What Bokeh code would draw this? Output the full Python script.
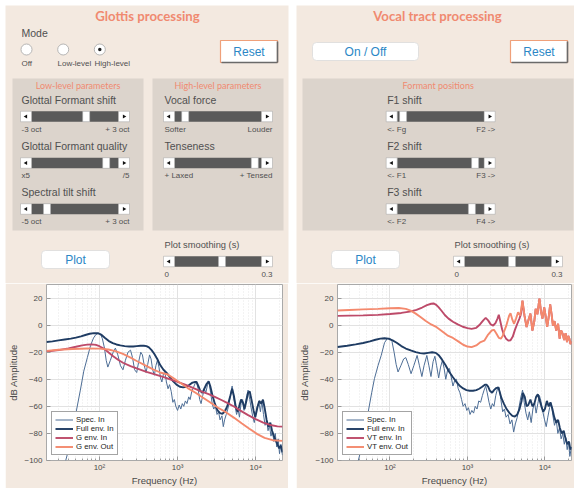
import math
from bokeh.plotting import figure
from bokeh.models import Range1d, FixedTicker, Legend, LegendItem, Spacer
from bokeh.layouts import column, row
from bokeh.embed import file_html
from bokeh.resources import INLINE
from bokeh.core.properties import value

# ---------------- data ----------------
x_ticks = [100, 1000, 10000]
x_tick_labels = ["10\u00b2", "10\u00b3", "10\u2074"]
x_minor = [30, 40, 50, 60, 70, 80, 90, 200, 300, 400, 500, 600, 700, 800, 900,
           2000, 3000, 4000, 5000, 6000, 7000, 8000, 9000, 20000]
y_ticks = [-100, -80, -60, -40, -20, 0, 20]

legend_left = ["Spec. In", "Full env. In", "G env. In", "G env. Out"]
legend_right = ["Spec. In", "Full env. In", "VT env. In", "VT env. Out"]

# Left plot (Glottis)
spec_L_f = [37, 42, 50, 57, 63, 70, 77, 84, 90, 97,
            103, 109, 116, 122, 128, 138, 150, 160, 172, 186,
            200, 215, 232, 250, 265, 282, 300, 318, 338, 355,
            375, 395, 415, 438, 458, 480, 505, 528, 552, 578,
            605, 630, 660, 690, 720, 755, 790, 830, 870, 910,
            950, 1000, 1050, 1100, 1150, 1200, 1260, 1320, 1390, 1450,
            1520, 1600, 1680, 1750, 1830, 1920, 2000, 2100, 2200, 2300,
            2420, 2530, 2650, 2780, 2900, 3050, 3200, 3350, 3500, 3700,
            3850, 4000, 4200, 4400, 4600, 4800, 5000, 5200, 5450, 5700,
            5950, 6200, 6500, 6800, 7100, 7400, 7700, 8000, 8400, 8800,
            9200, 9600, 10000, 10500, 11000, 11500, 12000, 12600, 13200, 13800,
            14400, 15000, 15700, 16400, 17100, 17800, 18600, 19400, 20200, 21000,
            22000]
spec_L_db = [-100, -88, -65, -48, -34, -24, -15, -9.5, -7, -6,
             -6.5, -10, -17, -26, -31, -26, -20, -17, -22, -30,
             -33, -26, -20, -18.5, -24, -33, -35, -27, -20, -22,
             -30, -35, -29, -22, -25, -33, -37, -30, -26, -31,
             -39, -42, -36, -35, -42, -47, -44, -49, -57, -55,
             -60, -63, -59, -62, -58, -60, -56, -58, -53, -55,
             -49, -46, -43, -42, -47, -55, -58, -52, -47, -50,
             -44, -42, -50, -58, -62, -60, -66, -64, -70, -67,
             -75, -70, -66, -62, -57, -50, -45, -53, -60, -66,
             -62, -68, -58, -55, -63, -57, -52, -48, -55, -62,
             -68, -72, -66, -60, -57, -64, -56, -66, -74, -70,
             -78, -74, -82, -78, -86, -80, -90, -84, -95, -88,
             -96]

full_L_f = [21, 25, 30, 36, 43, 50, 58, 66, 75, 85,
            95, 105, 118, 132, 148, 165, 185, 210, 240, 270,
            300, 335, 370, 400, 430, 465, 500, 550, 600, 660,
            730, 800, 880, 970, 1070, 1180, 1300, 1420, 1550, 1680,
            1750, 1850, 1950, 2080, 2200, 2350, 2500, 2620, 2800, 3000,
            3250, 3500, 3750, 4000, 4250, 4500, 4750, 5000, 5250, 5550,
            5850, 6150, 6500, 6850, 7200, 7600, 8000, 8400, 8900, 9400,
            9900, 10500, 11100, 11800, 12400, 13100, 13800, 14600, 15400, 16200,
            17100, 18000, 19000, 20000, 21000, 22000]
full_L_db = [-12.5, -12, -11.3, -10.6, -10, -9.2, -8.3, -7.3, -6.4, -5.9,
             -6, -7, -9.5, -11.8, -13.3, -14.3, -15, -15.5, -15.8, -15.8,
             -15.5, -15.2, -15.2, -15.5, -16.5, -18.5, -21, -25, -29.5, -33,
             -35.5, -38.5, -41.5, -44, -45.5, -46, -45.5, -44, -42.5, -42,
             -42, -45, -48.5, -50, -47, -43.5, -41.5, -45, -52, -58,
             -63, -65, -65.5, -64, -61, -57, -52, -47, -52, -60,
             -64, -60, -55, -57, -62, -56, -50, -49, -56, -63,
             -68, -61, -56, -58, -55, -62, -70, -75, -72, -78,
             -82, -85, -88, -91, -89, -94]

genv_in_L_f = [21, 30, 40, 50, 60, 70, 80, 90, 100, 115,
               130, 150, 175, 200, 250, 300, 400, 500, 650, 800,
               1000, 1250, 1600, 2000, 2500, 3000, 3700, 4500, 5400, 6300,
               8000, 10000, 12500, 16000, 19000, 22050]
genv_in_L_db = [-19.5, -18.5, -17.2, -16, -15, -14.4, -14.2, -14.6, -15.6, -17.5,
                -20, -23, -25.8, -27.8, -30.3, -32, -34.5, -36.2, -38.3, -40,
                -42, -44, -46.5, -49, -51, -53, -55.5, -58, -60.5, -63,
                -66.5, -69.5, -72, -74, -74.8, -75]

genv_out_L_f = [21, 30, 45, 70, 100, 130, 160, 200, 250, 300,
                380, 480, 600, 750, 900, 1100, 1350, 1700, 2100, 2600,
                3300, 4200, 5300, 6600, 8300, 10500, 13000, 16500, 22050]
genv_out_L_db = [-19, -18.2, -17.6, -17.3, -17.4, -18, -19.2, -21.2, -24, -26.5,
                 -29.5, -32.5, -35, -36.5, -39.5, -43, -46.5, -50, -53.5, -57,
                 -61, -64.5, -68.5, -72.5, -76.5, -80.5, -83.3, -85, -85.5]

# Right plot (Vocal tract)
spec_R_f = [39, 44, 52, 58, 63, 70, 77, 85, 92, 100,
            106, 113, 120, 127, 138, 150, 160, 172, 187, 203,
            224, 240, 258, 275, 299, 318, 338, 360, 380, 400,
            425, 450, 475, 500, 525, 555, 585, 615, 650, 685,
            720, 760, 800, 840, 880, 930, 980, 1030, 1080, 1140,
            1200, 1260, 1330, 1400, 1480, 1560, 1640, 1720, 1800, 1900,
            2000, 2100, 2200, 2320, 2440, 2560, 2700, 2850, 3000, 3150,
            3350, 3550, 3750, 3950, 4150, 4400, 4650, 4900, 5150, 5400,
            5700, 6000, 6300, 6650, 7000, 7350, 7700, 8100, 8500, 8950,
            9400, 9900, 10400, 10900, 11500, 12100, 12700, 13300, 14000, 14700,
            15400, 16200, 17000, 17800, 18600, 19400, 20200, 21000, 22000]
spec_R_db = [-100, -88, -65, -50, -39.5, -30, -22.4, -13, -10, -9.7,
             -12, -20, -29, -34.6, -30, -25, -24, -29, -35.9, -30,
             -22.4, -30, -38, -30, -22.4, -30, -38, -27, -23, -30,
             -39, -31, -26, -32, -40, -33, -32, -38, -45, -41,
             -40, -47, -50, -55, -60, -58, -63, -61, -66, -63,
             -65, -60, -62, -56, -57, -52, -48, -45, -50, -57,
             -62, -58, -60, -52, -47, -46, -55, -64, -62, -68,
             -66, -73, -70, -79, -73, -68, -60, -53, -48, -57,
             -65, -70, -64, -72, -62, -57, -65, -58, -52, -57,
             -64, -70, -75, -68, -61, -58, -67, -74, -70, -80,
             -76, -84, -80, -88, -83, -92, -86, -97, -90]

full_R_f = [21, 28, 36, 45, 55, 65, 75, 85, 95, 108,
            122, 140, 160, 185, 215, 245, 275, 310, 350, 390,
            430, 470, 520, 580, 650, 720, 800, 880, 970, 1070,
            1180, 1300, 1420, 1550, 1680, 1760, 1850, 1950, 2080, 2200,
            2350, 2500, 2600, 2750, 2950, 3200, 3500, 3800, 4100, 4400,
            4700, 5000, 5200, 5500, 5800, 6100, 6500, 6900, 7300, 7700,
            8100, 8500, 9000, 9500, 10000, 10600, 11200, 11800, 12500, 13200,
            14000, 14800, 15600, 16500, 17500, 18500, 19500, 20500, 21300, 22000]
full_R_db = [-16.2, -15.2, -14.2, -13.2, -12, -10.8, -10, -9.7, -10, -11.3,
             -13, -15.5, -17.3, -18.7, -20, -20.7, -21, -20.5, -20, -20.5,
             -22.5, -25.5, -29.5, -34.5, -38.5, -42, -45, -46.8, -48, -48.5,
             -48.5, -48, -47, -45.5, -44, -44, -45.5, -48.5, -50, -48,
             -46.5, -46, -49, -54, -58, -62, -65, -67, -67.5, -66,
             -62, -56, -50, -53, -60, -59, -55, -60, -58, -53,
             -51, -55, -60, -64, -62, -56, -60, -57, -62, -68,
             -72, -70, -76, -80, -78, -84, -88, -86, -92, -90]

vtenv_in_R_f = [21, 30, 45, 70, 100, 140, 180, 220, 260, 300,
                340, 365, 390, 420, 460, 510, 570, 650, 750, 870,
                1000, 1130, 1300, 1450, 1600, 1720, 1850, 2000, 2150, 2300,
                2450, 2540, 2650, 2800, 2950, 3150, 3400, 3600, 3850, 4100,
                4400, 4700, 4950]
vtenv_in_R_db = [6.8, 7, 7.2, 7.6, 8.2, 9, 10, 11.3, 13, 14.8,
                 15.8, 16, 15.2, 13.5, 10.8, 7.5, 4.8, 2.5, 0.5, -1.2,
                 -2.2, -2.8, -2, 0.5, 3.5, 5.3, 3.5, 0.5, -0.3, 1.5,
                 5, 7.7, 3, -3, -7, -10, -11.5, -11.2, -8.5, -3.5,
                 1, 5, 9]

vtenv_out_R_f = [21, 30, 45, 70, 100, 130, 160, 185, 215, 250,
                 290, 340, 400, 470, 550, 650, 760, 880, 1000, 1130,
                 1300, 1480, 1650, 1850, 2050, 2200, 2350, 2550, 2700, 2850,
                 3000, 3150, 3300, 3450, 3600, 3800, 4000, 4250, 4500, 4800]
vtenv_out_R_db = [10.8, 11.2, 11.6, 12, 12.5, 12.6, 12, 10.7, 8.5, 5.8,
                  3, 0.5, -1.5, -4.5, -7.5, -9.5, -12, -14.5, -15.8, -16.3,
                  -15, -12.5, -11.5, -7, -4, -3.5, -6, -9.5, -10, -8,
                  -4, -1, 3, 7, 8.8, 4, 1, 5, 9.5, 7]

# shared high-frequency part of both VT envelopes
vt_hf_f = [5130, 5450, 5800, 6150, 6500, 6900, 7300, 7600, 8000, 8500,
           8900, 9300, 9800, 10200, 10700, 11200, 11700, 12200, 12700, 13300,
           14000, 14800, 15500, 16200, 17000, 17700, 18500, 19300, 20000, 20700,
           21400, 22050]
vt_hf_db = [18, 7, -1.4, 4, 8.5, -4, 3, 12, 8, 19.6,
            10, 4.8, 13, 7, -1.3, 6, 15.4, 8, -0.4, 3,
            -4, 1, -10, -4, -6.5, -11, -6, -12.6, -8, -10,
            -14, -12]

# GUI values
mode_options = ["Off", "Low-level", "High-level"]
mode_selected = 2
low_labels = ["Glottal Formant shift", "Glottal Formant quality", "Spectral tilt shift"]
low_min = ["-3 oct", "x5", "-5 oct"]
low_max = ["+ 3 oct", "/5", "+ 3 oct"]
low_values = [0.64, 0.89, 0.15]
high_labels = ["Vocal force", "Tenseness"]
high_min = ["Softer", "+ Laxed"]
high_max = ["Louder", "+ Tensed"]
high_values = [0.09, 0.96]
formant_labels = ["F1 shift", "F2 shift", "F3 shift"]
formant_min = ["<- Fg", "<- F1", "<- F2"]
formant_max = ["F2 ->", "F3 ->", "F4 ->"]
formant_values = [0.03, 0.93, 0.89]
smoothing_min, smoothing_max = "0", "0.3"
smoothing_values = [0.55, 0.55]

# ---------------- styles ----------------
W = 574
TOP_H = 283
BOT_H = 205
BEIGE = "#f3e9e0"
SUB = "#dcd4cc"
SALMON = "#f08a70"
BLUE = "#2b87c6"
TXT = "#505050"
SANS = value("Liberation Sans")
TITLE = value("Lato")

top = figure(width=W, height=TOP_H, x_range=Range1d(0, W),
             y_range=Range1d(TOP_H, 0), output_backend="svg",
             toolbar_location=None, x_axis_location=None, y_axis_location=None,
             min_border=0)
top.grid.visible = False
top.outline_line_color = None
top.background_fill_color = "white"
top.border_fill_color = "white"

# panels
top.quad(left=[5, 296], right=[288, 580], top=[5, 5], bottom=[290, 290],
         fill_color=BEIGE, line_color=None)
top.quad(left=[12, 152, 302], right=[143, 283, 573], top=[78, 78, 78],
         bottom=[230, 230, 230], fill_color=SUB, line_color=None)


def txt(x, y, t, size, color=TXT, align="left", font=SANS, style="normal"):
    top.text(x=[x], y=[y], text=[t], text_font=font, text_font_size=size,
             text_color=color, text_align=align, text_baseline="middle",
             text_font_style=style)


txt(147, 15, "Glottis processing", "13.2px", SALMON, "center", TITLE, "bold")
txt(437, 15, "Vocal tract processing", "13.2px", SALMON, "center", TITLE, "bold")
txt(77.5, 84.5, "Low-level parameters", "9px", SALMON, "center", TITLE)
txt(217.5, 84.5, "High-level parameters", "9px", SALMON, "center", TITLE)
txt(437.7, 84.5, "Formant positions", "9px", SALMON, "center", TITLE)

# mode radio
txt(21, 32.5, "Mode", "10.5px")
radio_x = [26, 62.7, 99.3]
top.scatter(x=radio_x, y=[49] * 3, size=11, fill_color="white", line_color="#a5a5a5",
            line_width=0.8)
top.scatter(x=[radio_x[mode_selected]], y=[49], size=3.5, fill_color="#222222",
            line_color=None)
for xx, lab in zip([21, 57, 94], mode_options):
    txt(xx, 62.5, lab, "8px")


def button(l, r, t, b, label, style):
    if style == "reset":
        top.quad(left=[l], right=[r], top=[t], bottom=[b], fill_color="white",
                 line_color="#efa07a", line_width=1.2)
        top.segment(x0=[l + 1, r], y0=[b, t + 1], x1=[r, r], y1=[b, b],
                    line_color="#6a6a6a", line_width=1.6)
    else:
        top.quad(left=[l], right=[r], top=[t], bottom=[b], fill_color="white",
                 line_color="#dadada", line_width=0.8, border_radius=4)
    txt((l + r) / 2, (t + b) / 2 + 0.5, label, "12px", BLUE, "center")


button(220, 277, 40, 62, "Reset", "reset")
button(510, 567, 40, 62, "Reset", "reset")
button(312, 418, 42, 60, "On / Off", "round")
button(41, 109, 250, 268, "Plot", "round")
button(331, 399, 250, 268, "Plot", "round")


def slider(x0, yc, val, label=None, lo=None, hi=None, label_size="10.5px"):
    w, h, e, th = 109.0, 10.5, 11.0, 7.0
    top.quad(left=[x0 + e], right=[x0 + w - e], top=[yc - h / 2], bottom=[yc + h / 2],
             fill_color="#5a5a5a", line_color=None)
    top.quad(left=[x0, x0 + w - e], right=[x0 + e, x0 + w], top=[yc - h / 2] * 2,
             bottom=[yc + h / 2] * 2, fill_color="white", line_color="#a0a0a0",
             line_width=0.5)
    top.scatter(x=[x0 + e / 2, x0 + w - e / 2], y=[yc, yc], marker="triangle",
                size=4, angle=[math.pi / 2, -math.pi / 2], fill_color="#111111",
                line_color=None)
    tl = x0 + e + val * (w - 2 * e - th)
    top.quad(left=[tl], right=[tl + th], top=[yc - h / 2], bottom=[yc + h / 2],
             fill_color="white", line_color="#b0b0b0", line_width=0.5)
    if label:
        txt(x0 + 1, yc - 17, label, label_size)
    txt(x0 + 1, yc + 12.5, lo, "8px")
    txt(x0 + w, yc + 12.5, hi, "8px", align="right")


rows_y = [116, 162.5, 208.5]
for i in range(3):
    slider(20, rows_y[i], low_values[i], low_labels[i], low_min[i], low_max[i])
for i in range(2):
    slider(163, rows_y[i], high_values[i], high_labels[i], high_min[i], high_max[i])
for i in range(3):
    slider(385.7, rows_y[i], formant_values[i], formant_labels[i], formant_min[i],
           formant_max[i])
for k, x0 in enumerate([163, 453]):
    slider(x0, 261, smoothing_values[k], "Plot smoothing (s)", smoothing_min,
           smoothing_max, "9.3px")


# ---------------- spectra plots ----------------
def make_plot(width, bl, br, series, labels):
    p = figure(width=width, height=BOT_H, x_axis_type="log",
               x_range=Range1d(21, 22050), y_range=Range1d(-100, 30),
               output_backend="svg", toolbar_location=None,
               min_border_left=bl, min_border_right=br, min_border_top=1,
               min_border_bottom=27)
    p.background_fill_color = "white"
    p.border_fill_color = BEIGE
    p.outline_line_color = "#a9a9a9"
    p.xaxis.ticker = FixedTicker(ticks=x_ticks, minor_ticks=x_minor)
    p.xaxis.major_label_overrides = {t: l for t, l in zip(x_ticks, x_tick_labels)}
    p.yaxis.ticker = FixedTicker(ticks=y_ticks)
    for ax in (p.xaxis[0], p.yaxis[0]):
        ax.axis_line_color = None
        ax.major_tick_in = 4
        ax.major_tick_out = 0
        ax.minor_tick_in = 2
        ax.minor_tick_out = 0
        ax.major_tick_line_color = "#9a9a9a"
        ax.minor_tick_line_color = "#9a9a9a"
        ax.major_label_text_font = "Liberation Sans"
        ax.major_label_text_font_size = "8px"
        ax.major_label_text_color = "#4a4a4a"
        ax.axis_label_text_font = "Liberation Sans"
        ax.axis_label_text_font_size = "9.5px"
        ax.axis_label_text_font_style = "normal"
        ax.axis_label_text_color = "#4a4a4a"
    p.xaxis.axis_label = "Frequency (Hz)"
    p.yaxis.axis_label = "dB Amplitude"
    p.xaxis.major_label_standoff = 2
    p.xaxis.axis_label_standoff = 0
    p.yaxis.major_label_standoff = 4
    p.yaxis.axis_label_standoff = 2
    p.xgrid.grid_line_color = "#e2e2e2"
    p.xgrid.minor_grid_line_color = "#e6e6e6"
    p.xgrid.minor_grid_line_dash = "1 2"
    p.ygrid.grid_line_color = "#e2e2e2"
    styles = [("#4d6d95", 1.0), ("#1f3c63", 1.9), ("#bd4a69", 1.9), ("#f4896d", 1.9)]
    items = []
    for (f, d), (c, lw), lab in zip(series, styles, labels):
        r = p.line(f, d, line_color=c, line_width=lw)
        items.append(LegendItem(label=lab, renderers=[r]))
    leg = Legend(items=items, location="bottom_left", margin=5, padding=3,
                 spacing=0, glyph_width=18, glyph_height=9, label_height=9,
                 label_standoff=3, label_text_font="Liberation Sans",
                 label_text_font_size="7.8px", label_text_color="#222222",
                 border_line_color="#4a4a4a", border_line_width=0.8,
                 background_fill_color="white", background_fill_alpha=1.0)
    p.add_layout(leg)
    return p


left = make_plot(283, 37, 6,
                 [(spec_L_f, spec_L_db), (full_L_f, full_L_db),
                  (genv_in_L_f, genv_in_L_db), (genv_out_L_f, genv_out_L_db)],
                 legend_left)
right = make_plot(278, 36, 3,
                  [(spec_R_f, spec_R_db), (full_R_f, full_R_db),
                   (vtenv_in_R_f + vt_hf_f, vtenv_in_R_db + vt_hf_db),
                   (vtenv_out_R_f + vt_hf_f, vtenv_out_R_db + vt_hf_db)],
                  legend_right)

layout = column(top, row(Spacer(width=5, height=BOT_H), left,
                         Spacer(width=8, height=BOT_H), right))
open("out.html", "w").write(file_html(layout, INLINE))
